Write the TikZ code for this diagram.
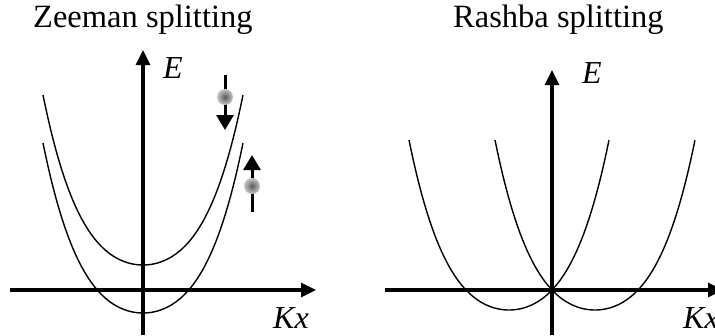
\documentclass[tikz,border=0pt]{standalone}
\usepackage{fontspec}
\setmainfont{Liberation Serif}
\usetikzlibrary{arrows.meta}
\tikzset{
	eje/.style={line width=3.2pt, -{Triangle[length=15pt,width=14pt]}},
	banda/.style={line width=1.4pt},
	espin/.style={line width=3pt, -{Triangle[length=15pt,width=17pt]}},
	titulo/.style={font=\fontsize{32.5}{38}\selectfont, inner sep=0pt, anchor=base west},
	etiqueta/.style={font=\fontsize{32}{38}\selectfont\itshape, inner sep=0pt, anchor=base west},
	electron/.style={inner color=black!65, outer color=black!22},
}
\begin{document}
\begin{tikzpicture}[x=1pt, y=-1pt]
		\useasboundingbox (0,0) rectangle (715,335);
		% Títulos
		\node[titulo] (tz) at (33,27) {Zeeman splitting};
		\node[titulo] (tr) at (453,27) {Rashba splitting};
		% Panel izquierdo: ejes
		\coordinate (zx0) at (10,290);  \coordinate (zx1) at (316,290);
		\coordinate (zy0) at (143,335); \coordinate (zy1) at (143,50);
		\draw[eje] (zx0) -- (zx1);
		\draw[eje] (zy0) -- (zy1);
		\node[etiqueta] (zE) at (163,78) {E};
		\node[etiqueta] (zK) at (273,328) {Kx};
		% Bandas desplazadas en energía
		\draw[banda] plot[domain=-1:1, samples=81] ({143+100*\x},{265-94.2*\x*\x-75.8*\x*\x*\x*\x});
		\draw[banda] plot[domain=-1:1, samples=81] ({143+100*\x},{313-94.2*\x*\x-75.8*\x*\x*\x*\x});
		% Espines
		\coordinate (sb0) at (225,75);  \coordinate (sb1) at (225,130);
		\coordinate (ss0) at (252,212); \coordinate (ss1) at (252,155);
		\draw[espin] (sb0) -- (sb1);
		\draw[espin] (ss0) -- (ss1);
		\shade[electron] (225,97) circle (8);
		\shade[electron] (252,186) circle (8);
		% Panel derecho: ejes
		\coordinate (rx0) at (385,290); \coordinate (rx1) at (723,290);
		\coordinate (ry0) at (552,335); \coordinate (ry1) at (552,70);
		\draw[eje] (rx0) -- (rx1);
		\draw[eje] (ry0) -- (ry1);
		\node[etiqueta] (rE) at (582,83) {E};
		\node[etiqueta] (rK) at (683,328) {Kx};
		% Bandas desplazadas en k
		\draw[banda] plot[domain=-1:1, samples=81] ({509+100*\x},{310-94.2*\x*\x-75.8*\x*\x*\x*\x});
		\draw[banda] plot[domain=-1:1, samples=81] ({595+100*\x},{310-94.2*\x*\x-75.8*\x*\x*\x*\x});
	\end{tikzpicture}
\end{document}
